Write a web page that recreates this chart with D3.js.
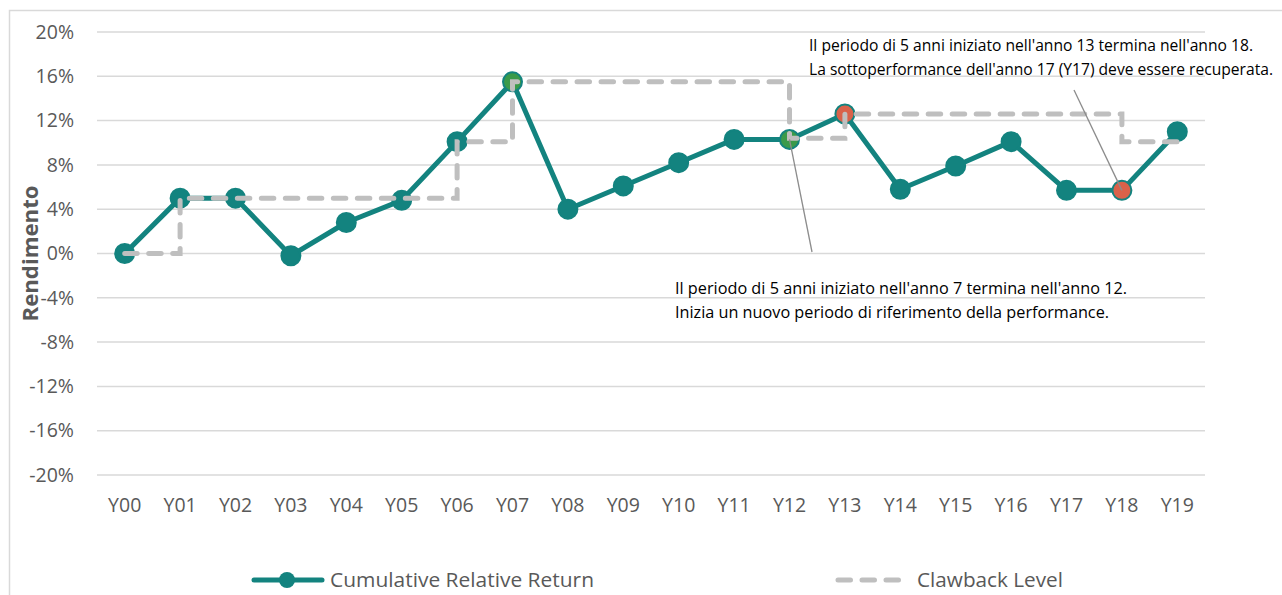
<!DOCTYPE html>
<html>
<head>
<meta charset="utf-8">
<script src="https://cdn.jsdelivr.net/npm/d3@7"></script>
<style>
  body { margin: 0; background: #fff; }
  svg { display: block; font-family: "Open Sans", "Noto Sans", sans-serif; }
</style>
</head>
<body>
<div id="chart"></div>
<script>
// data
const years = ["Y00","Y01","Y02","Y03","Y04","Y05","Y06","Y07","Y08","Y09",
               "Y10","Y11","Y12","Y13","Y14","Y15","Y16","Y17","Y18","Y19"];
const cumulative = [0, 5.0, 5.0, -0.2, 2.8, 4.8, 10.1, 15.5, 4.0, 6.1,
                    8.2, 10.3, 10.3, 12.6, 5.8, 7.9, 10.1, 5.7, 5.7, 11.0];
const clawback = [0, 5.0, 5.0, 5.0, 5.0, 5.0, 10.1, 15.5, 15.5, 15.5,
                  15.5, 15.5, 10.4, 12.6, 12.6, 12.6, 12.6, 12.6, 10.1, 10.1];
const yTicks = [-20, -16, -12, -8, -4, 0, 4, 8, 12, 16, 20];
// highlighted markers: green = period reset, red = period end
const greenYears = ["Y07", "Y12"];
const redYears = ["Y13", "Y18"];

const width = 1282;
const height = 595;
const margin = {left: 97, right: 77, top: 32, bottom: 120};

const teal = "#13837f";
const grey = "#bfbfbf";
const dash = "12.5,11.5";

const svg = d3.select("#chart")
  .append("svg")
  .attr("width", width)
  .attr("height", height);

// chart area border (only top and left visible)
svg.append("path")
  .attr("d", `M9.5,${height} V10.5 H${width}`)
  .attr("fill", "none")
  .attr("stroke", "#d9d9d9")
  .attr("stroke-width", 1.5);

const x = d3.scaleBand()
  .domain(years)
  .range([margin.left, width - margin.right]);

const y = d3.scaleLinear()
  .domain([-20, 20])
  .range([475, margin.top]);

const cx = d => x(d) + x.bandwidth() / 2;

// gridlines
svg.append("g")
  .selectAll("line")
  .data(yTicks)
  .join("line")
    .attr("x1", margin.left)
    .attr("x2", width - margin.right)
    .attr("y1", d => y(d))
    .attr("y2", d => y(d))
    .attr("stroke", "#d9d9d9")
    .attr("stroke-width", 1.5);

// y axis labels
const yAxis = svg.append("g")
  .attr("transform", `translate(${margin.left - 23},0)`)
  .call(d3.axisLeft(y).tickValues(yTicks).tickSize(0).tickFormat(d => d + "%"));
yAxis.select(".domain").remove();
yAxis.selectAll("text")
  .attr("font-size", 19.5)
  .attr("font-family", "Open Sans")
  .attr("fill", "#595959")
  .attr("x", 0);

// x axis labels
const xAxis = svg.append("g")
  .attr("transform", `translate(0,${y(-20) + 20})`)
  .call(d3.axisBottom(x).tickSize(0));
xAxis.select(".domain").remove();
xAxis.selectAll("text")
  .attr("font-size", 19.5)
  .attr("font-family", "Open Sans")
  .attr("fill", "#595959");

// y axis title
svg.append("text")
  .attr("transform", `translate(38,${y(0)}) rotate(-90)`)
  .attr("text-anchor", "middle")
  .attr("font-size", 21)
  .attr("font-weight", "bold")
  .attr("fill", "#595959")
  .attr("textLength", 136)
  .attr("lengthAdjust", "spacingAndGlyphs")
  .text("Rendimento");

// cumulative relative return
const pts = years.map((d, i) => ({year: d, v: cumulative[i]}));
svg.append("path")
  .datum(pts)
  .attr("fill", "none")
  .attr("stroke", teal)
  .attr("stroke-width", 5)
  .attr("stroke-linejoin", "round")
  .attr("d", d3.line().x(d => cx(d.year)).y(d => y(d.v)));

svg.append("g")
  .selectAll("circle")
  .data(pts)
  .join("circle")
    .attr("cx", d => cx(d.year))
    .attr("cy", d => y(d.v))
    .attr("r", 9.5)
    .attr("fill", d => greenYears.includes(d.year) ? "#3a9a4a"
                     : redYears.includes(d.year) ? "#d9624a" : teal)
    .attr("stroke", teal)
    .attr("stroke-width", 2);

// clawback level (step)
const cpts = years.map((d, i) => ({year: d, v: clawback[i]}));
svg.append("path")
  .datum(cpts)
  .attr("fill", "none")
  .attr("stroke", grey)
  .attr("stroke-width", 5)
  .attr("stroke-linecap", "round")
  .attr("stroke-dasharray", dash)
  .attr("d", d3.line().curve(d3.curveStepAfter).x(d => cx(d.year)).y(d => y(d.v)));

// annotations
const noteColor = "#8c8c8c";
svg.append("line")
  .attr("x1", cx("Y12")).attr("y1", y(10.3))
  .attr("x2", 812).attr("y2", 252)
  .attr("stroke", noteColor).attr("stroke-width", 1.3);
svg.append("line")
  .attr("x1", 1074).attr("y1", 90)
  .attr("x2", cx("Y18")).attr("y2", y(5.7))
  .attr("stroke", noteColor).attr("stroke-width", 1.3);

const notes = [
  {x: 809, y: 51, w: 444, t: "Il periodo di 5 anni iniziato nell'anno 13 termina nell'anno 18."},
  {x: 809, y: 75, w: 464, t: "La sottoperformance dell'anno 17 (Y17) deve essere recuperata."},
  {x: 675, y: 294, w: 452, t: "Il periodo di 5 anni iniziato nell'anno 7 termina nell'anno 12."},
  {x: 675, y: 318, w: 434, t: "Inizia un nuovo periodo di riferimento della performance."}
];
svg.append("g")
  .selectAll("text")
  .data(notes)
  .join("text")
    .attr("x", d => d.x)
    .attr("y", d => d.y)
    .attr("font-size", 16)
    .attr("fill", "#000")
    .attr("textLength", d => d.w)
    .attr("lengthAdjust", "spacingAndGlyphs")
    .text(d => d.t);

// legend
const legend = svg.append("g");
legend.append("line")
  .attr("x1", 254).attr("x2", 322).attr("y1", 580).attr("y2", 580)
  .attr("stroke", teal).attr("stroke-width", 5).attr("stroke-linecap", "round");
legend.append("circle")
  .attr("cx", 287).attr("cy", 580).attr("r", 8).attr("fill", teal);
legend.append("text")
  .attr("x", 330).attr("y", 587)
  .attr("font-size", 20).attr("fill", "#595959")
  .attr("textLength", 264).attr("lengthAdjust", "spacingAndGlyphs")
  .text("Cumulative Relative Return");
legend.append("line")
  .attr("x1", 838).attr("x2", 902).attr("y1", 580).attr("y2", 580)
  .attr("stroke", grey).attr("stroke-width", 5).attr("stroke-linecap", "round")
  .attr("stroke-dasharray", dash);
legend.append("text")
  .attr("x", 917).attr("y", 587)
  .attr("font-size", 20).attr("fill", "#595959")
  .attr("textLength", 146).attr("lengthAdjust", "spacingAndGlyphs")
  .text("Clawback Level");
</script>
</body>
</html>
